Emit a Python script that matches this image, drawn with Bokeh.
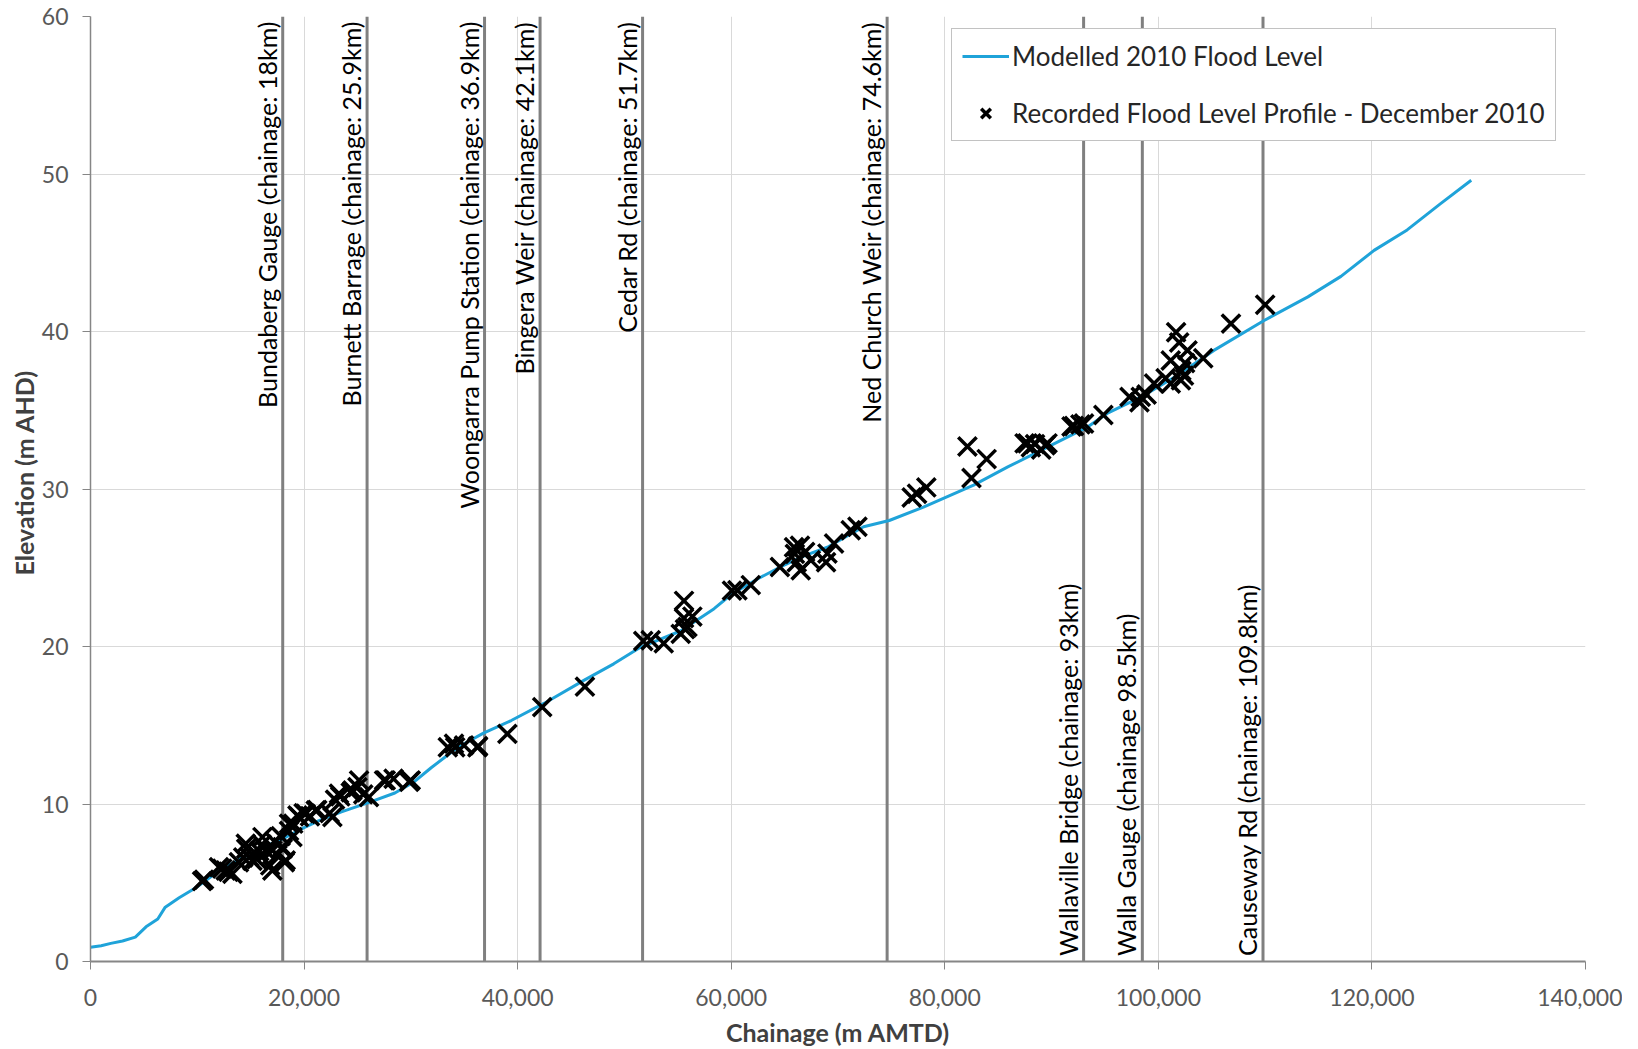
import math
from bokeh.plotting import figure
from bokeh.models import Range1d, FixedTicker, NumeralTickFormatter, Legend, LegendItem, Title
from bokeh.core.properties import value
from bokeh.embed import file_html
from bokeh.resources import INLINE

# ---------------- data ----------------
x_ticks = [0, 20000, 40000, 60000, 80000, 100000, 120000, 140000]
y_ticks = [0, 10, 20, 30, 40, 50, 60]

# Modelled 2010 flood level (chainage m, elevation m AHD)
model_x = [0, 1000, 1900, 3000, 4200, 5200, 6300, 7000, 8300, 9900, 12000, 14000, 16000,
           18300, 20000, 21400, 23500, 26100, 28500, 30300, 31900, 34400, 36800, 39400,
           42500, 46200, 49000, 51500, 55300, 58400, 60000, 62500, 64600, 67000, 69000,
           72400, 74800, 78000, 82700, 85900, 89000, 93400, 95200, 98400, 101500, 105200,
           109900, 114000, 117100, 120200, 123300, 126400, 129300]
model_y = [0.9, 1.0, 1.15, 1.3, 1.55, 2.2, 2.7, 3.45, 4.05, 4.7, 5.75, 6.5, 7.2,
           7.9, 8.5, 8.95, 9.5, 10.1, 10.7, 11.4, 12.3, 13.6, 14.5, 15.3,
           16.4, 17.85, 18.9, 19.95, 21.0, 22.4, 23.3, 24.3, 25.05, 25.8, 26.3,
           27.6, 28.0, 28.85, 30.25, 31.4, 32.45, 33.95, 34.8, 35.85, 37.1, 38.8,
           40.7, 42.2, 43.5, 45.15, 46.45, 48.1, 49.6]

# Recorded flood level profile - December 2010
rec_x = [10450, 10630, 12030, 12330, 12660, 12920, 13290, 13900, 14300, 14540, 14580, 14870,
         15160, 15560, 15800, 16050, 16100, 16540, 16830, 17030, 17030, 17220, 17510, 17810,
         17970, 18000, 18190, 18280, 18590, 18590, 18910, 18980, 19380, 19530, 19960, 20150,
         20550, 21090, 21230, 22400, 22650, 22900, 23270, 23390, 24370, 24530, 25000, 25150,
         25540, 26080, 27490, 27650, 28380, 29850, 29990,
         33460, 34040, 34150, 34980, 36230, 36300, 39040, 42300, 46300,
         51760, 52460, 53680, 55270, 55580, 55580, 55670, 55900, 56360,
         60070, 60580, 61830, 64560, 65880, 65960, 66140, 66440, 66510, 66920, 67450,
         68880, 69010, 69630, 71190, 71820,
         76900, 77400, 78270, 82120, 82500, 83920,
         87470, 87740, 88060, 88450, 89030, 89430, 89620, 91870, 92100, 92700, 93040, 94850,
         97300, 98230, 98350, 98900, 99600, 100680, 101160, 101160, 101660, 101950, 102110,
         102150, 102400, 102500, 102730, 104200, 106800, 110000]
rec_y = [5.1, 5.2, 5.99, 5.9, 5.78, 5.7, 5.57, 6.3, 6.6, 7.48, 7.16, 6.63,
         6.4, 6.5, 7.0, 7.43, 7.9, 6.96, 6.1, 5.78, 7.05, 7.62, 6.77, 7.96,
         7.26, 7.16, 6.3, 6.42, 8.29, 8.75, 7.9, 8.75, 9.28, 9.17, 9.42, 9.38,
         9.22, 9.59, 9.62, 9.42, 9.17, 10.28, 10.65, 10.48, 10.74, 10.86, 11.07, 11.5,
         10.61, 10.44, 11.5, 11.5, 11.6, 11.41, 11.5,
         13.6, 13.83, 13.6, 13.72, 13.6, 13.67, 14.45, 16.15, 17.45,
         20.35, 20.4, 20.2, 20.8, 22.9, 21.8, 21.1, 21.24, 21.9,
         23.55, 23.57, 23.9, 25.05, 26.3, 25.88, 25.35, 26.4, 24.84, 26.0, 25.48,
         25.35, 25.9, 26.54, 27.38, 27.6,
         29.46, 29.7, 30.1, 32.7, 30.7, 31.9,
         32.9, 32.9, 32.65, 32.85, 32.5, 32.78, 32.9, 33.97, 34.0, 34.1, 34.16, 34.7,
         35.85, 35.5, 35.85, 36.0, 36.7, 37.03, 36.7, 38.16, 39.95, 39.3, 36.9,
         37.5, 37.2, 38.0, 38.8, 38.3, 40.5, 41.7]

# Reference locations (chainage m)
site_x = [18000, 25900, 36900, 42100, 51700, 74600, 93000, 98500, 109800]
site_labels = ["Bundaberg Gauge (chainage: 18km)",
               "Burnett Barrage (chainage: 25.9km)",
               "Woongarra Pump Station (chainage: 36.9km)",
               "Bingera Weir (chainage: 42.1km)",
               "Cedar Rd (chainage: 51.7km)",
               "Ned Church Weir (chainage: 74.6km)",
               "Wallaville Bridge (chainage: 93km)",
               "Walla Gauge (chainage 98.5km)",
               "Causeway Rd (chainage: 109.8km)"]
site_at_top = [True, True, True, True, True, True, False, False, False]

X_MIN, X_MAX = 0, 140000
Y_MIN, Y_MAX = 0, 60

FONT = "Lato"

p = figure(width=1622, height=1049,
           x_range=Range1d(X_MIN, X_MAX), y_range=Range1d(Y_MIN, Y_MAX),
           output_backend="svg", toolbar_location=None,
           min_border_left=90, min_border_top=16, min_border_right=37, min_border_bottom=88)
p.outline_line_color = None
p.background_fill_color = "white"

# grid
p.xgrid.ticker = FixedTicker(ticks=x_ticks)
p.ygrid.ticker = FixedTicker(ticks=y_ticks)
for g in (p.xgrid, p.ygrid):
    g.grid_line_color = "#d9d9d9"
    g.grid_line_width = 1

# axes
p.xaxis.ticker = FixedTicker(ticks=x_ticks)
p.yaxis.ticker = FixedTicker(ticks=y_ticks)
p.xaxis.formatter = NumeralTickFormatter(format="0,0")
p.xaxis.axis_label = "Chainage (m AMTD)"
for ax in (p.xaxis, p.yaxis):
    ax.minor_tick_line_color = None
    ax.major_tick_in = 0
    ax.major_tick_out = 8
    ax.major_tick_line_color = "#868686"
    ax.axis_line_color = "#868686"
    ax.major_label_text_font = FONT
    ax.major_label_text_font_size = "23px"
    ax.major_label_text_color = "#595959"
    ax.axis_label_text_font = FONT
    ax.axis_label_text_font_style = "bold"
    ax.axis_label_text_color = "#404040"
p.xaxis.major_label_standoff = 19
p.yaxis.major_label_standoff = 14
p.xaxis.axis_label_text_font_size = "25px"
p.xaxis.axis_label_standoff = 8
p.xaxis.axis_line_width = 2
p.yaxis.axis_line_width = 1.5

# y-axis title (side title, placed slightly above centre as in the original)
ytitle = Title(text="Elevation (m AHD)", align="left", offset=386, standoff=0,
               text_font=FONT, text_font_size="25px", text_font_style="bold",
               text_color="#404040")
p.add_layout(ytitle, "left")

# vertical location lines
p.segment(x0=site_x, y0=[Y_MIN] * len(site_x), x1=site_x, y1=[Y_MAX] * len(site_x),
          line_color="#808080", line_width=3)

# labels
top_idx = [i for i, t in enumerate(site_at_top) if t]
bot_idx = [i for i, t in enumerate(site_at_top) if not t]
p.text(x=[site_x[i] for i in top_idx], y=[Y_MAX - 0.32] * len(top_idx),
       text=[site_labels[i] for i in top_idx], angle=math.pi / 2,
       text_align="right", text_baseline="alphabetic", x_offset=-16,
       text_font=value(FONT), text_font_size="25px", text_color="#000000")
p.text(x=[site_x[i] for i in bot_idx], y=[Y_MIN + 0.35] * len(bot_idx),
       text=[site_labels[i] for i in bot_idx], angle=math.pi / 2,
       text_align="left", text_baseline="alphabetic", x_offset=-16,
       text_font=value(FONT), text_font_size="25px", text_color="#000000")

# series
r_line = p.line(model_x, model_y, line_color="#1fa3d9", line_width=3)
r_rec = p.scatter(rec_x, rec_y, marker="x", size=26, line_color="black", line_width=3.5)

legend = Legend(items=[LegendItem(label="Modelled 2010 Flood Level", renderers=[r_line]),
                       LegendItem(label="Recorded Flood Level Profile - December 2010", renderers=[r_rec])],
                location=(861, 820))
legend.label_text_font = FONT
legend.label_text_font_size = "26px"
legend.label_text_color = "#262626"
legend.padding = 10
legend.spacing = 23
legend.glyph_width = 47
legend.glyph_height = 34
legend.label_height = 34
legend.label_standoff = 3
legend.margin = 0
legend.border_line_color = "#868686"
legend.border_line_width = 1.5
legend.background_fill_alpha = 1
p.add_layout(legend)

open("out.html", "w").write(file_html(p, INLINE))
